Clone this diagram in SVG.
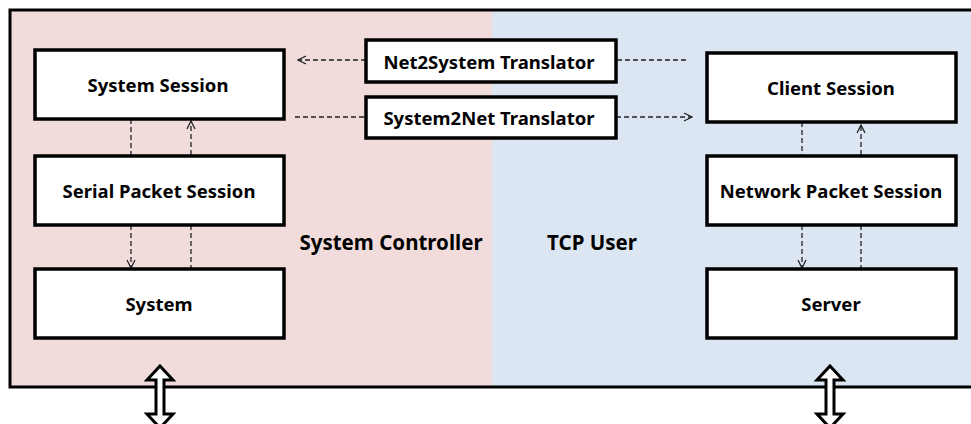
<svg xmlns="http://www.w3.org/2000/svg" width="971" height="424" viewBox="0 0 971 424">
<defs>
<style>
.box{fill:#fff;stroke:#000;stroke-width:3.5}
.lbl{font-family:"Noto Sans","Liberation Sans",sans-serif;font-weight:700;font-size:18.5px;fill:#000;text-anchor:middle;dominant-baseline:central}
.big{font-size:20.5px}
.dash{fill:none;stroke:#222;stroke-width:1.3;stroke-dasharray:5 3}
.dbl{fill:#fff;stroke:#000;stroke-width:3;stroke-linejoin:miter}
</style>
<marker id="arr" viewBox="0 0 10 10" refX="9" refY="5" markerWidth="10" markerHeight="10" markerUnits="userSpaceOnUse" orient="auto">
<path d="M1,1 L9,5 L1,9" fill="none" stroke="#222" stroke-width="1.3"/>
</marker>
</defs>
<rect x="0" y="0" width="971" height="424" fill="#fff"/>
<g id="frame">
<rect x="10" y="10" width="482" height="377" fill="#f2dcdb"/>
<rect x="492" y="10" width="485" height="377" fill="#dce6f2"/>
<path d="M975,10 H10 V387 H975" fill="none" stroke="#000" stroke-width="3"/>
</g>
<g id="system-controller-label"><text class="lbl big" x="391" y="242">System Controller</text></g>
<g id="tcp-user-label"><text class="lbl big" x="592" y="242">TCP User</text></g>
<g id="connectors">
<line class="dash" x1="366" y1="60" x2="298" y2="60" marker-end="url(#arr)"/>
<line class="dash" x1="686" y1="60" x2="616" y2="60"/>
<line class="dash" x1="295" y1="117" x2="366" y2="117"/>
<line class="dash" x1="616" y1="117" x2="692" y2="117" marker-end="url(#arr)"/>
<line class="dash" x1="131" y1="119" x2="131" y2="155"/>
<line class="dash" x1="191" y1="155" x2="191" y2="121" marker-end="url(#arr)"/>
<line class="dash" x1="131" y1="225" x2="131" y2="268" marker-end="url(#arr)"/>
<line class="dash" x1="191" y1="225" x2="191" y2="269"/>
<line class="dash" x1="802" y1="122" x2="802" y2="155"/>
<line class="dash" x1="861" y1="155" x2="861" y2="125" marker-end="url(#arr)"/>
<line class="dash" x1="802" y1="225" x2="802" y2="268" marker-end="url(#arr)"/>
<line class="dash" x1="861" y1="225" x2="861" y2="269"/>
<path class="dbl" d="M160,366 L173,380 L164,380 L164,414 L173,414 L160,428 L147,414 L156,414 L156,380 L147,380 Z"/>
<path class="dbl" d="M830,366 L843,380 L834,380 L834,414 L843,414 L830,428 L817,414 L826,414 L826,380 L817,380 Z"/>
</g>
<g id="system-session"><rect class="box" x="35" y="50" width="249" height="69"/><text class="lbl" x="158" y="84">System Session</text></g>
<g id="serial-packet-session"><rect class="box" x="35" y="156" width="249" height="69"/><text class="lbl" x="159" y="190">Serial Packet Session</text></g>
<g id="system"><rect class="box" x="35" y="269" width="249" height="69"/><text class="lbl" x="159" y="303">System</text></g>
<g id="net2system"><rect class="box" x="366" y="40" width="250" height="42"/><text class="lbl" x="489" y="61">Net2System Translator</text></g>
<g id="system2net"><rect class="box" x="366" y="97" width="250" height="41"/><text class="lbl" x="489" y="117">System2Net Translator</text></g>
<g id="client-session"><rect class="box" x="707" y="53" width="249" height="69"/><text class="lbl" x="831" y="87">Client Session</text></g>
<g id="network-packet-session"><rect class="box" x="707" y="156" width="249" height="69"/><text class="lbl" x="831" y="190">Network Packet Session</text></g>
<g id="server"><rect class="box" x="707" y="269" width="249" height="69"/><text class="lbl" x="831" y="303">Server</text></g>
</svg>
